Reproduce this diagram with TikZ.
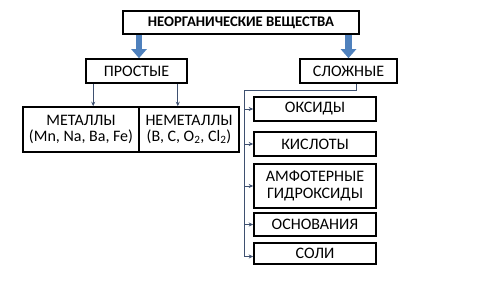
\documentclass[tikz,border=0pt]{standalone}
\usepackage{fontspec}
\setmainfont{Carlito}
\usetikzlibrary{arrows.meta,calc}

\definecolor{officeBlue}{RGB}{79,129,189}
\definecolor{linkGray}{RGB}{62,80,112}

\begin{document}
\begin{tikzpicture}[
  x=1pt, y=-1pt,
  every node/.style={font=\fontsize{16}{15.5}\selectfont},
  box/.style={draw=black, line width=1.6pt, align=center, inner sep=0pt,
    minimum width=122pt},
  blockArrow/.style={officeBlue, line width=6.5pt,
    -{Triangle[length=9pt, width=15pt]}},
  link/.style={linkGray, line width=0.75pt},
  linkArrow/.style={link, -{Stealth[length=4.5pt, width=4pt]}}
]
\useasboundingbox (0,0) rectangle (480,283);

% top level
\node[box, minimum width=236pt, minimum height=23pt, font=\fontsize{14.7}{15}\selectfont\bfseries]
  (root) at (241,22.5) {НЕОРГАНИЧЕСКИЕ ВЕЩЕСТВА};

% second level
\node[box, minimum width=101pt, minimum height=24pt] (simple) at (136.5,71) {ПРОСТЫЕ};
\node[box, minimum width=97pt, minimum height=24pt] (complex) at (348.5,71) {СЛОЖНЫЕ};

% simple substances
\node[box, minimum width=116pt, minimum height=45pt] (metals) at (81,129.5)
  {МЕТАЛЛЫ\\(Mn, Na, Ba, Fe)};
\node[box, minimum width=100pt, minimum height=45pt] (nonmetals) at (189,129.5)
  {НЕМЕТАЛЛЫ\\(B, C, O\textsubscript{2}, Cl\textsubscript{2})};

% complex substances
\node[box, minimum height=24pt] (oxides) at (315,109) {ОКСИДЫ};
\node[box, minimum height=24pt] (acids) at (315,144) {КИСЛОТЫ};
\node[box, minimum height=44pt, font=\fontsize{16}{17}\selectfont]
  (amphoteric) at (315,186) {АМФОТЕРНЫЕ\\ГИДРОКСИДЫ};
\node[box, minimum height=23pt] (bases) at (315,224.5) {ОСНОВАНИЯ};
\node[box, minimum height=21pt] (salts) at (315,253.5) {СОЛИ};

% block arrows
\coordinate (leftDrop) at (139,0);
\draw[blockArrow] (root.south -| leftDrop) -- (simple.north -| leftDrop);
\draw[blockArrow] (root.south -| complex.north) -- (complex.north);

% thin arrows to metals / nonmetals
\coordinate (simpleL) at ($(simple.south west)+(8,0)$);
\coordinate (simpleR) at ($(simple.south east)+(-10,0)$);
\draw[linkArrow] (simpleL) -- (simpleL |- metals.north);
\draw[linkArrow] (simpleR) -- (simpleR |- nonmetals.north);

% bus from complex substances
\coordinate (busTop) at (244,90);
\coordinate (saltsIn) at ($(salts.west)+(0,3)$);
\draw[link] ([xshift=8pt]complex.south) |- (busTop) -- (busTop |- saltsIn);
\foreach \kind in {oxides, acids, amphoteric, bases}
  \draw[linkArrow] (busTop |- \kind.west) -- (\kind.west);
\draw[linkArrow] (busTop |- saltsIn) -- (saltsIn);
\end{tikzpicture}
\end{document}
